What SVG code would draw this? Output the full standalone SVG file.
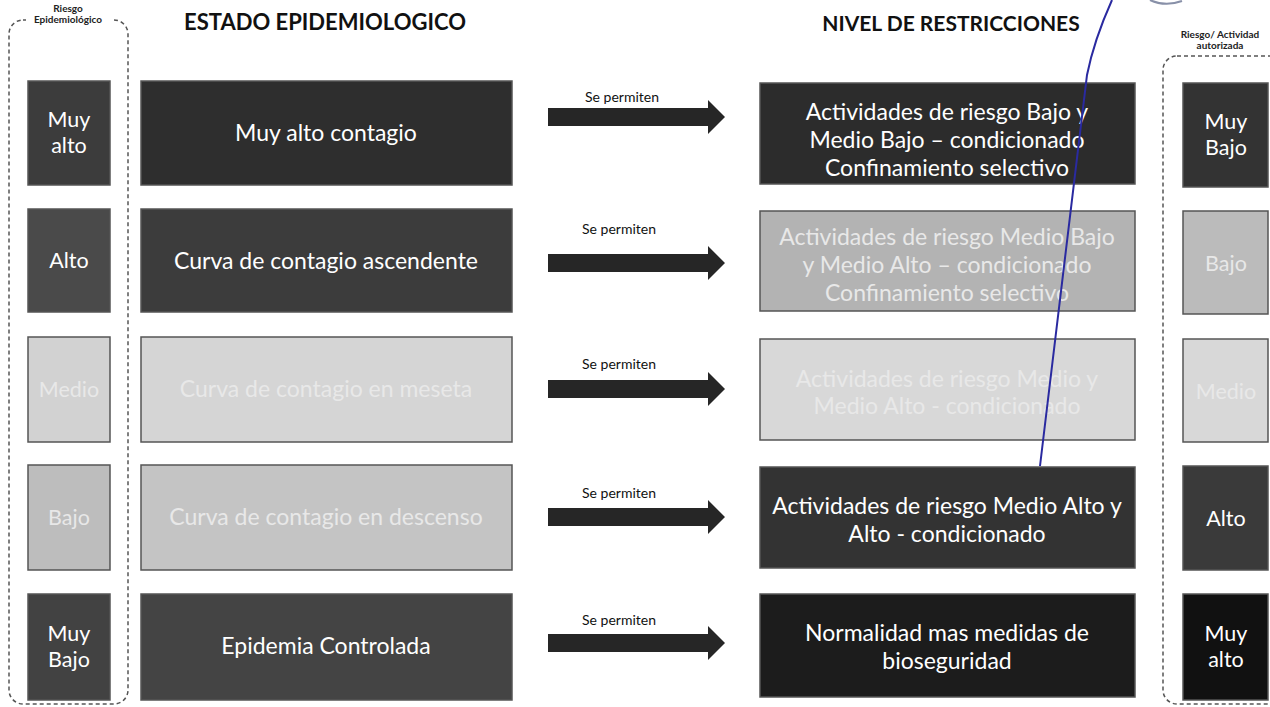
<svg xmlns="http://www.w3.org/2000/svg" width="1270" height="707" viewBox="0 0 1270 707">
<defs>
<style>
text{font-family:Lato,"Open Sans","Liberation Sans",sans-serif;}
.t{fill:#ffffff;font-size:23px;text-anchor:middle;}
.tl{fill:#e8e8e8;font-size:23px;text-anchor:middle;}
.s{fill:#ffffff;font-size:21.5px;text-anchor:middle;}
.sl{fill:#e8e8e8;font-size:21.5px;text-anchor:middle;}
.h{fill:#111;font-weight:bold;text-anchor:middle;}
.hs{fill:#222;font-size:10px;font-weight:bold;text-anchor:middle;}
.lab{fill:#111;font-size:14px;text-anchor:middle;}
.b{stroke:#555;stroke-width:1.5;}
.dash{fill:none;stroke:#555;stroke-width:1.5;stroke-dasharray:4 3;}
.arr{fill:#262626;}
</style>
</defs>
<rect width="1270" height="707" fill="#ffffff"/>

<g id="frames">
<rect class="dash" x="9" y="20" width="119" height="684" rx="14"/>
<rect class="dash" x="1163" y="56" width="130" height="648" rx="14"/>
<rect x="26" y="14" width="86" height="12" fill="#ffffff"/>
</g>

<g id="titles">
<text class="h" x="325" y="30" font-size="22">ESTADO EPIDEMIOLOGICO</text>
<text class="h" x="951" y="31" font-size="21">NIVEL DE RESTRICCIONES</text>
<text class="hs" x="68" y="12">Riesgo</text>
<text class="hs" x="68" y="23">Epidemiológico</text>
<text class="hs" x="1220" y="38">Riesgo/ Actividad</text>
<text class="hs" x="1220" y="49">autorizada</text>
</g>

<g id="riesgo-muy-alto"><rect class="b" x="28" y="81" width="82" height="104" fill="#3c3c3c"/><text class="s" x="69" y="127">Muy</text><text class="s" x="69" y="153">alto</text></g>
<g id="riesgo-alto"><rect class="b" x="28" y="209" width="82" height="103" fill="#4a4a4a"/><text class="s" x="69" y="268">Alto</text></g>
<g id="riesgo-medio"><rect class="b" x="28" y="337" width="82" height="105" fill="#d2d2d2"/><text class="sl" x="69" y="397">Medio</text></g>
<g id="riesgo-bajo"><rect class="b" x="28" y="465" width="82" height="105" fill="#bdbdbd"/><text class="sl" x="69" y="525">Bajo</text></g>
<g id="riesgo-muy-bajo"><rect class="b" x="28" y="594" width="82" height="106" fill="#424242"/><text class="s" x="69" y="641">Muy</text><text class="s" x="69" y="667">Bajo</text></g>

<g id="estado-1"><rect class="b" x="141" y="81" width="371" height="104" fill="#2e2e2e"/><text class="t" x="326" y="141">Muy alto contagio</text></g>
<g id="estado-2"><rect class="b" x="141" y="209" width="371" height="103" fill="#3c3c3c"/><text class="t" x="326" y="269">Curva de contagio ascendente</text></g>
<g id="estado-3"><rect class="b" x="141" y="337" width="371" height="105" fill="#d5d5d5"/><text class="tl" x="326" y="397">Curva de contagio en meseta</text></g>
<g id="estado-4"><rect class="b" x="141" y="465" width="371" height="105" fill="#c4c4c4"/><text class="tl" x="326" y="525">Curva de contagio en descenso</text></g>
<g id="estado-5"><rect class="b" x="141" y="594" width="371" height="106" fill="#444444"/><text class="t" x="326" y="654">Epidemia Controlada</text></g>

<g id="connectors">
<text class="lab" x="622" y="102">Se permiten</text>
<polygon class="arr" points="548,108 708,108 708,100 725,117 708,134 708,126 548,126"/>
<text class="lab" x="619" y="234">Se permiten</text>
<polygon class="arr" points="548,254 708,254 708,246 725,263 708,280 708,272 548,272"/>
<text class="lab" x="619" y="369">Se permiten</text>
<polygon class="arr" points="548,380 708,380 708,372 725,389 708,406 708,398 548,398"/>
<text class="lab" x="619" y="498">Se permiten</text>
<polygon class="arr" points="548,508 708,508 708,500 725,517 708,534 708,526 548,526"/>
<text class="lab" x="619" y="625">Se permiten</text>
<polygon class="arr" points="548,634 708,634 708,626 725,643 708,660 708,652 548,652"/>
</g>

<g id="restr-1"><rect class="b" x="760" y="83" width="375" height="101" fill="#2c2c2c"/><text class="t" x="947" y="120">Actividades de riesgo Bajo y</text><text class="t" x="947" y="148">Medio Bajo – condicionado</text><text class="t" x="947" y="176">Confinamiento selectivo</text></g>
<g id="restr-2"><rect class="b" x="760" y="211" width="375" height="100" fill="#b3b3b3"/><text class="tl" x="947" y="245">Actividades de riesgo Medio Bajo</text><text class="tl" x="947" y="273">y  Medio Alto – condicionado</text><text class="tl" x="947" y="301">Confinamiento selectivo</text></g>
<g id="restr-3"><rect class="b" x="760" y="339" width="375" height="101" fill="#d8d8d8"/><text class="tl" x="947" y="387">Actividades de riesgo Medio y</text><text class="tl" x="947" y="414">Medio Alto - condicionado</text></g>
<g id="restr-4"><rect class="b" x="760" y="467" width="375" height="101" fill="#333333"/><text class="t" x="947" y="514">Actividades de riesgo Medio Alto y</text><text class="t" x="947" y="542">Alto - condicionado</text></g>
<g id="restr-5"><rect class="b" x="760" y="594" width="375" height="103" fill="#1c1c1c"/><text class="t" x="947" y="641">Normalidad mas medidas de</text><text class="t" x="947" y="669">bioseguridad</text></g>

<g id="act-muy-bajo"><rect class="b" x="1183" y="83" width="85" height="104" fill="#333333"/><text class="s" x="1226" y="129">Muy</text><text class="s" x="1226" y="155">Bajo</text></g>
<g id="act-bajo"><rect class="b" x="1183" y="211" width="85" height="103" fill="#bbbbbb"/><text class="sl" x="1226" y="271">Bajo</text></g>
<g id="act-medio"><rect class="b" x="1183" y="339" width="85" height="103" fill="#d8d8d8"/><text class="sl" x="1226" y="399">Medio</text></g>
<g id="act-alto"><rect class="b" x="1183" y="466" width="85" height="104" fill="#3a3a3a"/><text class="s" x="1226" y="526">Alto</text></g>
<g id="act-muy-alto"><rect class="b" x="1183" y="594" width="85" height="106" fill="#111111"/><text class="s" x="1226" y="641">Muy</text><text class="s" x="1226" y="667">alto</text></g>

<g id="pen">
<path d="M1112,0 Q1094,40 1087,75 L1040,466" fill="none" stroke="#2a2aa0" stroke-width="2"/>
<path d="M1150,0 Q1165,7 1182,1" fill="none" stroke="#8890a8" stroke-width="2"/>
</g>
</svg>
